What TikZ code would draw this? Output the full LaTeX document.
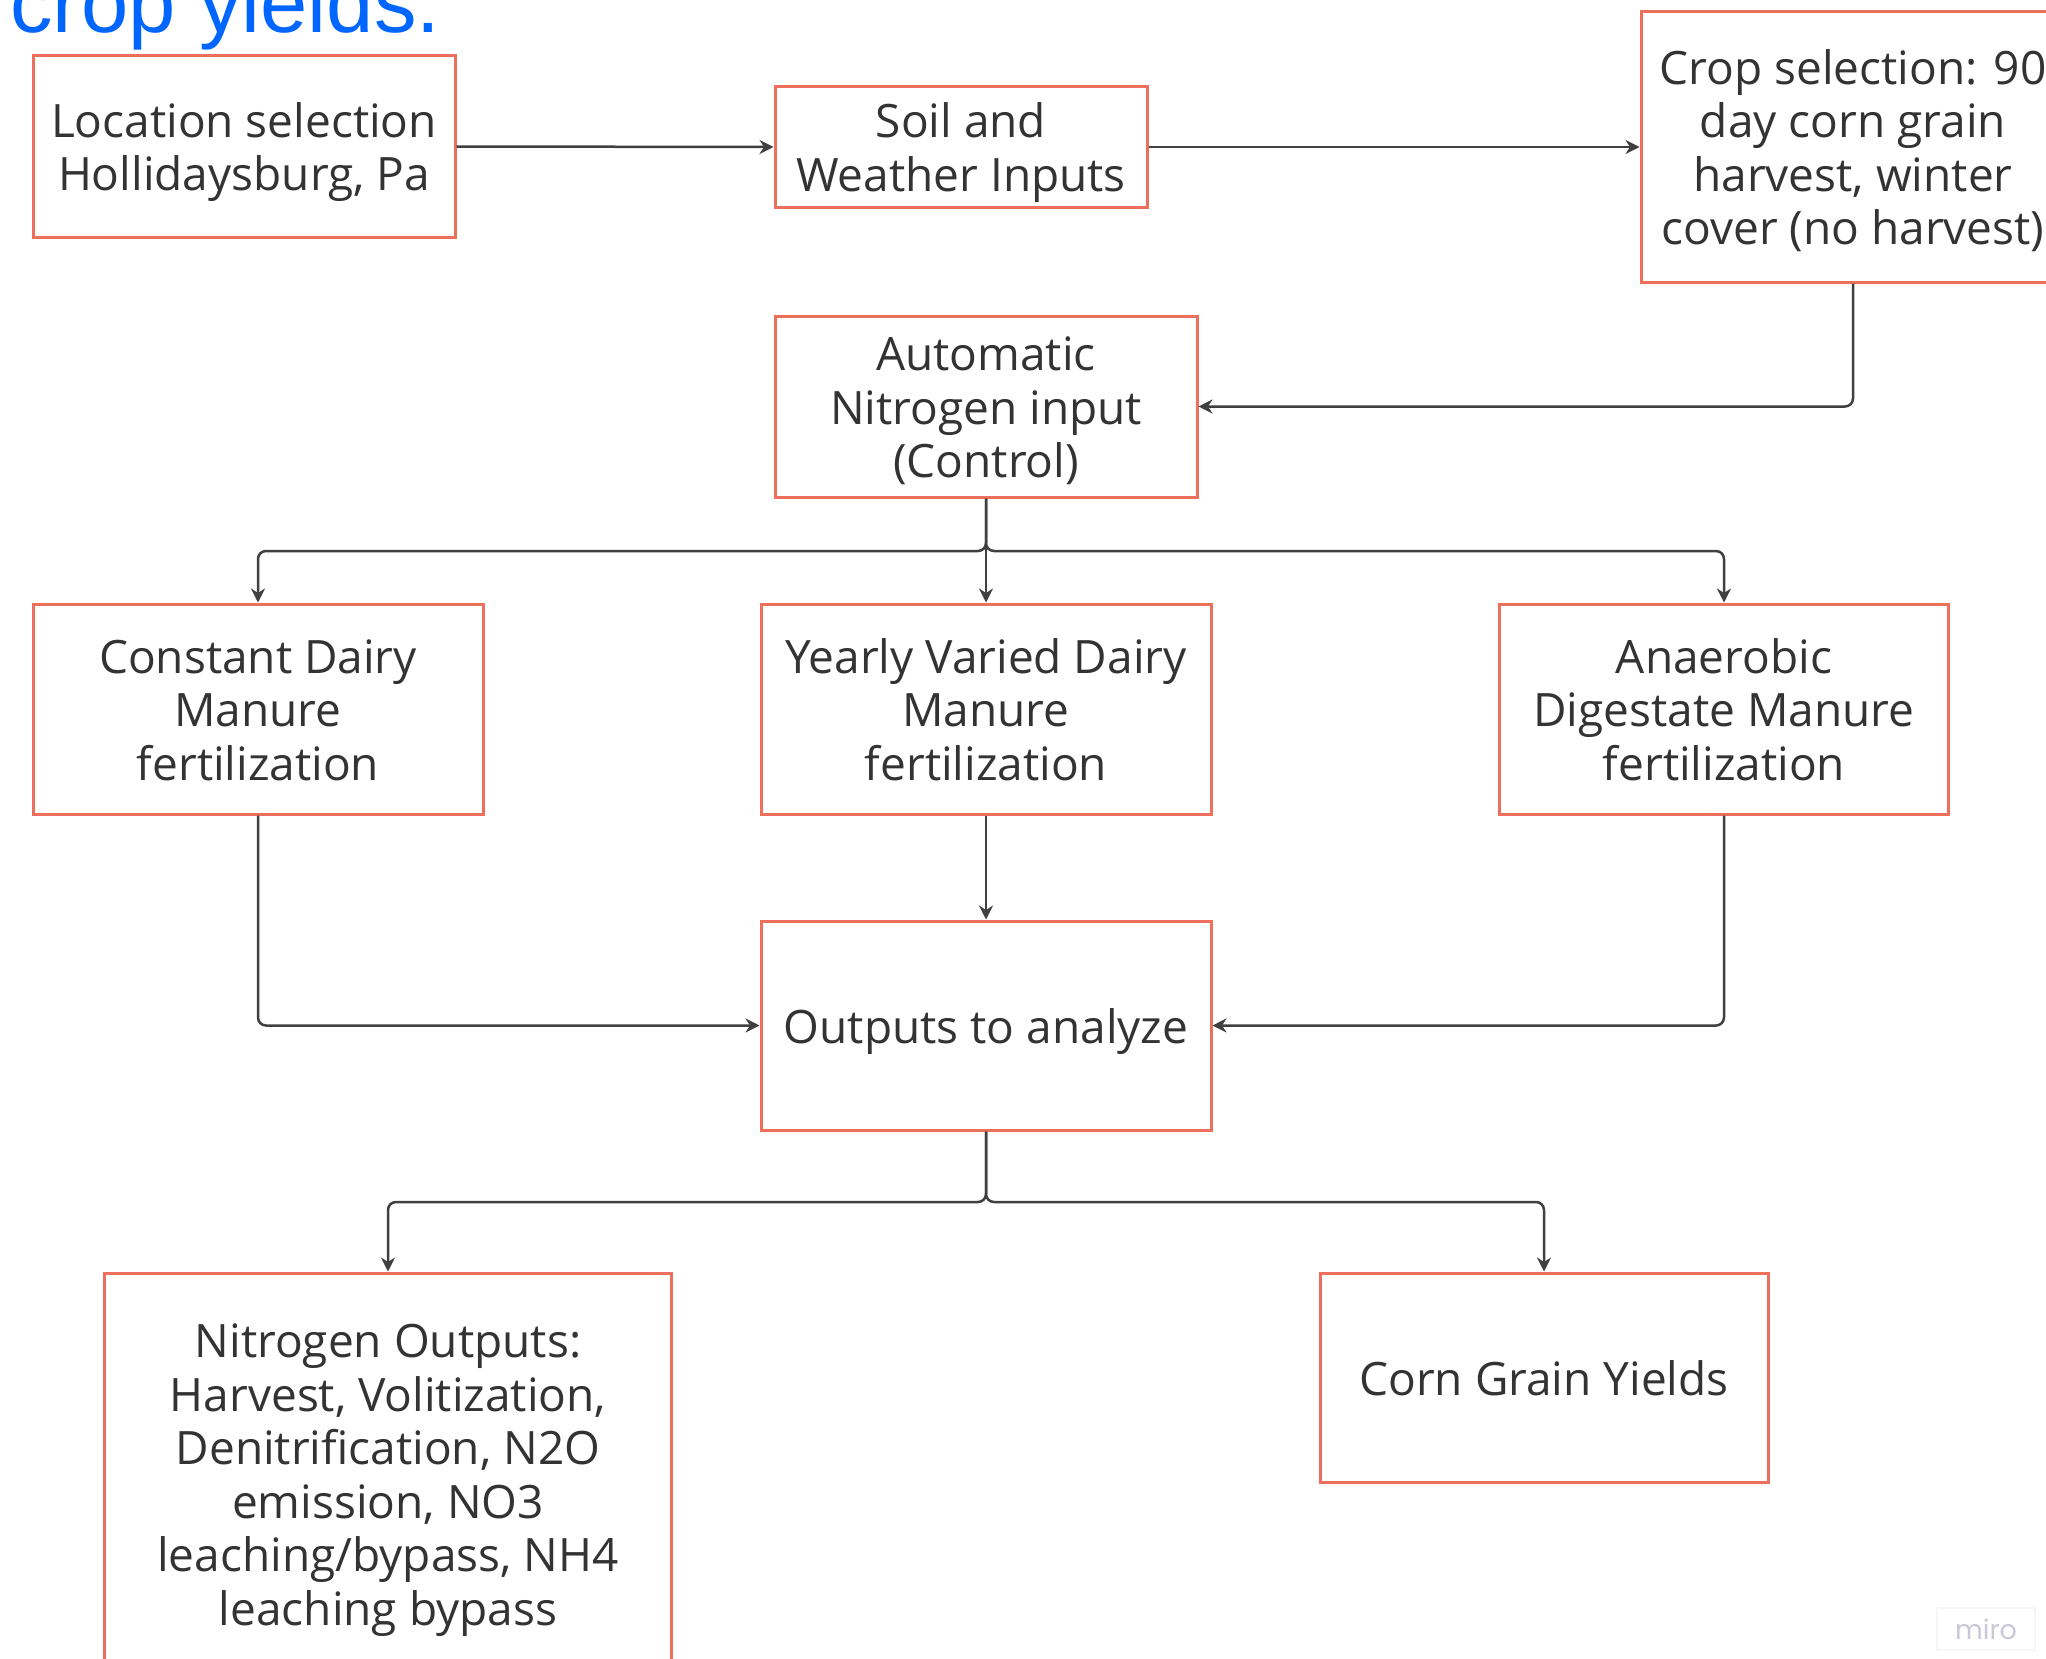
\documentclass[tikz,border=0pt]{standalone}
\usepackage{fontspec}
\setmainfont{Open Sans}
\newfontfamily\bluefont{Liberation Sans}
\newfontfamily\logofont{Poppins}
\usetikzlibrary{arrows.meta}
\definecolor{boxred}{RGB}{236,112,92}
\definecolor{linegray}{RGB}{64,64,64}
\definecolor{txtgray}{RGB}{51,51,51}
\definecolor{titleblue}{RGB}{0,102,255}
\definecolor{logogray}{RGB}{200,200,214}
\definecolor{logoframe}{RGB}{246,246,249}
% struts that give each text the same first-line height and last-line depth
\newcommand\fst{\rule{0pt}{23.5pt}}
\newcommand\lst{\rule[-6pt]{0pt}{6pt}}
\tikzset{
  box/.style={draw=boxred, line width=1.5pt, fill=white, align=center,
    text=txtgray, font=\fontsize{23}{26.75}\selectfont, inner sep=0pt},
  conn/.style={draw=linegray, line width=1.25pt, rounded corners=4pt,
    -{Stealth[length=7pt,width=7pt]}},
}
\begin{document}
\begin{tikzpicture}[x=0.5pt,y=-0.5pt]
\useasboundingbox (0,0) rectangle (2046,1659);
\clip (0,0) rectangle (2046,1659);
\fill[white] (0,0) rectangle (2046,1659);

\node[anchor=base west, text=titleblue, font=\bluefont\fontsize{42.5}{48}\selectfont, inner sep=0pt] (title) at (10,33) {crop yields.};

\node[box, minimum width=211pt, minimum height=90.5pt] (loc) at (244,146.5) {\fst Location selection\\Hollidaysburg, Pa\lst};
\node[box, minimum width=186pt, minimum height=60pt] (soil) at (961,147) {\fst Soil and\\Weather Inputs\lst};
\node[box, minimum width=212pt, minimum height=135pt] (crop) at (1853,147) {\fst Crop selection: 90\\day corn grain\\harvest, winter\\cover (no harvest)\lst};
\node[box, minimum width=211pt, minimum height=90.5pt] (auto) at (986,406.5) {\fst Automatic\\Nitrogen input\\(Control)\lst};
\node[box, minimum width=225pt, minimum height=105pt] (const) at (258,709) {\fst Constant Dairy\\Manure\\fertilization\lst};
\node[box, minimum width=225pt, minimum height=105pt] (yearly) at (986,709) {\fst Yearly Varied Dairy\\Manure\\fertilization\lst};
\node[box, minimum width=224.5pt, minimum height=105pt] (anaer) at (1724,709) {\fst Anaerobic\\Digestate Manure\\fertilization\lst};
\node[box, minimum width=225pt, minimum height=104.5pt] (out) at (986,1025.5) {\fst Outputs to analyze\lst};
\node[box, minimum width=283.5pt, minimum height=201pt] (nout) at (388,1474) {\fst Nitrogen Outputs:\\Harvest, Volitization,\\Denitrification, N2O\\emission, NO3\\leaching/bypass, NH4\\leaching bypass\lst};
\node[box, minimum width=224pt, minimum height=104.5pt] (corn) at (1544,1377.5) {\fst Corn Grain Yields\lst};

\coordinate (b1) at (986,551);
\coordinate (b2) at (986,1202);

\draw[conn] (loc.east) -- (soil.west);
\draw[conn] (soil.east) -- (crop.west);
\draw[conn] (crop.south) |- (auto.east);
\draw[conn] (auto.south) -- (yearly.north);
\draw[conn] (auto.south) -- (b1) -| (const.north);
\draw[conn] (auto.south) -- (b1) -| (anaer.north);
\draw[conn] (yearly.south) -- (out.north);
\draw[conn] (const.south) |- (out.west);
\draw[conn] (anaer.south) |- (out.east);
\draw[conn] (out.south) -- (b2) -| (nout.north);
\draw[conn] (out.south) -- (b2) -| (corn.north);

\node[draw=logoframe, line width=0.6pt, minimum width=49pt, minimum height=21pt, inner sep=0pt, text=logogray, font=\logofont\fontsize{13.5}{15}\selectfont] (logo) at (1986,1629) {miro};
\end{tikzpicture}
\end{document}
